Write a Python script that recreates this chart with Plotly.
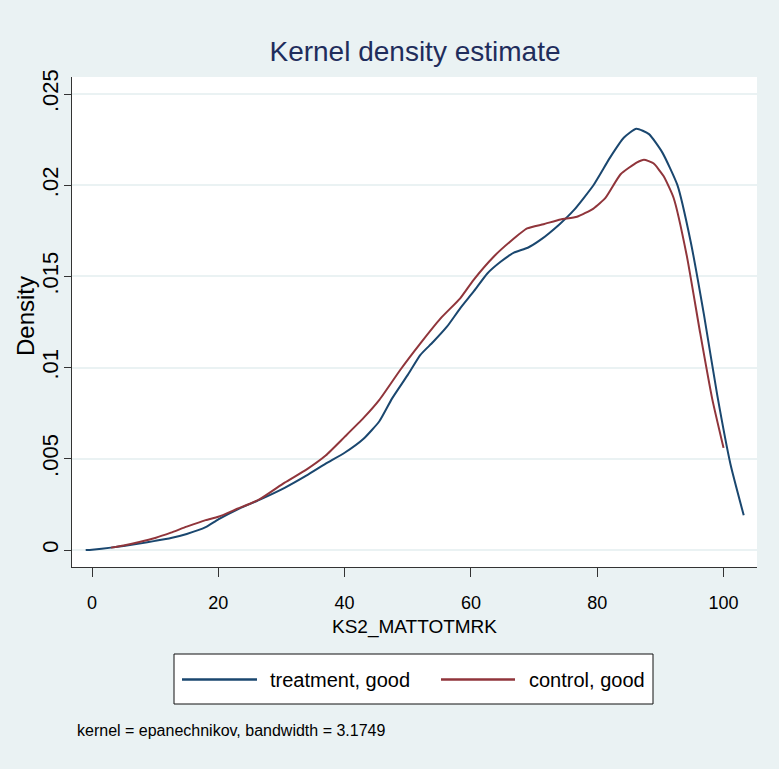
import plotly.graph_objects as go

# ---- data ----
treat_x = [-1, 0, 3, 5, 7.5, 10, 12.5, 15, 18, 20, 23, 26.5, 30.5, 34, 37, 40, 43, 45.5,
           47.5, 50, 52, 54, 56.2, 58.3, 60.5, 62.6, 64.7, 66.8, 69, 71, 74, 76.3, 79.4,
           82, 84.2, 86.2, 88.2, 90.3, 92.7, 94.8, 96.9, 99, 101.1, 103.2]
treat_y = [0, 0.00002, 0.00013, 0.00022, 0.00035, 0.0005, 0.00066, 0.00088, 0.00125,
           0.00168, 0.00222, 0.00275, 0.00341, 0.00409, 0.00473, 0.00533, 0.0061, 0.00706,
           0.0083, 0.0096, 0.0107, 0.0114, 0.01224, 0.01325, 0.0142, 0.01516, 0.0158,
           0.0163, 0.01657, 0.017, 0.01785, 0.01863, 0.02, 0.0215, 0.0226, 0.0231, 0.0228,
           0.0218, 0.02, 0.0169, 0.0129, 0.0085, 0.0047, 0.0019]

ctrl_x = [3, 5, 7.5, 10, 12.5, 15, 18, 20, 23, 26.5, 30.5, 34, 37, 40, 43, 45.5, 48.8,
          52, 55.2, 58.3, 60.4, 63.6, 66.2, 68.9, 71.5, 74.2, 76.8, 79.4, 81.3, 83.7, 86.3,
          87.4, 88.9, 90.5, 92.1, 94.2, 96.3, 98.2, 100]
ctrl_y = [0.00013, 0.00025, 0.00044, 0.00066, 0.00095, 0.00128, 0.00164, 0.00182, 0.00226,
          0.00277, 0.00369, 0.00442, 0.00518, 0.0062, 0.00724, 0.00823, 0.00987, 0.01133,
          0.0127, 0.0138, 0.0148, 0.01608, 0.0169, 0.01763, 0.01786, 0.01812, 0.01827,
          0.01872, 0.0193, 0.0206, 0.02125, 0.0214, 0.0212, 0.0205, 0.0193, 0.0161, 0.0119,
          0.0083, 0.0056]

series_names = ["treatment, good", "control, good"]
x_ticks = [0, 20, 40, 60, 80, 100]
y_ticks = [0, 0.005, 0.01, 0.015, 0.02, 0.025]
y_tick_text = ["0", ".005", ".01", ".015", ".02", ".025"]
title_text = "Kernel density estimate"
x_title = "KS2_MATTOTMRK"
y_title = "Density"
note_text = "kernel = epanechnikov, bandwidth = 3.1749"

# ---- style ----
W, H = 779, 769
ML, MR, MT, MB = 72, 22, 77, 202
BG = "#eaf2f3"
NAVY = "#1a476f"
MAROON = "#90353b"
FONT = "Liberation Sans, Arial, sans-serif"

pw, ph = W - ML - MR, H - MT - MB
def px2x(px):
    return (px - ML) / pw
def py2y(py):
    return (H - MB - py) / ph

fig = go.Figure()
fig.add_trace(go.Scatter(x=treat_x, y=treat_y, mode="lines", name=series_names[0],
                         line=dict(color=NAVY, width=2, shape="spline", smoothing=0.5),
                         showlegend=False))
fig.add_trace(go.Scatter(x=ctrl_x, y=ctrl_y, mode="lines", name=series_names[1],
                         line=dict(color=MAROON, width=2, shape="spline", smoothing=0.5),
                         showlegend=False))

shapes = []
annotations = []
# legend box (Stata-style, drawn in paper coordinates)
shapes.append(dict(type="rect", xref="paper", yref="paper",
                   x0=px2x(174), x1=px2x(653), y0=py2y(704), y1=py2y(654),
                   fillcolor="white", line=dict(color="#111111", width=1)))
leg_y = py2y(679.5)
for (lx0, lx1, tx, col, name) in [(182, 257, 268, NAVY, series_names[0]),
                                  (441, 515, 527, MAROON, series_names[1])]:
    shapes.append(dict(type="line", xref="paper", yref="paper",
                       x0=px2x(lx0), x1=px2x(lx1), y0=leg_y, y1=leg_y,
                       line=dict(color=col, width=2.5)))
    annotations.append(dict(text=name, xref="paper", yref="paper", x=px2x(tx), y=leg_y,
                            xanchor="left", yanchor="middle", showarrow=False,
                            font=dict(family=FONT, size=20, color="black")))
annotations.append(dict(text=note_text, xref="paper", yref="paper", x=px2x(75), y=py2y(730),
                        xanchor="left", yanchor="middle", showarrow=False,
                        font=dict(family=FONT, size=16, color="black")))
# y-axis title (rotated)
annotations.append(dict(text=y_title, xref="paper", yref="paper", x=px2x(25), y=py2y(316),
                        xanchor="center", yanchor="middle", textangle=-90, showarrow=False,
                        font=dict(family=FONT, size=24, color="black")))

fig.update_layout(
    width=W, height=H,
    margin=dict(l=ML, r=MR, t=MT, b=MB, autoexpand=False),
    paper_bgcolor=BG, plot_bgcolor="white",
    title=dict(text=title_text, x=px2x(415), xref="paper", xanchor="center",
               y=1 - 51 / H, yref="container", yanchor="middle",
               font=dict(family=FONT, size=28, color="#1f2d5c")),
    shapes=shapes, annotations=annotations,
    xaxis=dict(range=[-3.17, 105.3], tickmode="array", tickvals=x_ticks, automargin=False,
               ticks="outside", ticklen=9, tickcolor="#333", tickwidth=1,
               showline=True, linecolor="#333", linewidth=1, showgrid=False, zeroline=False,
               tickfont=dict(family=FONT, size=18, color="black"), ticklabelstandoff=10,
               title=dict(text=x_title, font=dict(family=FONT, size=19, color="black"),
                          standoff=8)),
    yaxis=dict(range=[-0.000932, 0.025932], tickmode="array", tickvals=y_ticks,
               ticktext=y_tick_text, tickangle=-90, automargin=False,
               ticks="outside", ticklen=7, tickcolor="#333", tickwidth=1,
               showline=True, linecolor="#333", linewidth=1,
               showgrid=True, gridcolor=BG, gridwidth=2, zeroline=False,
               tickfont=dict(family=FONT, size=22, color="black"), ticklabelstandoff=-3),
)

fig.write_html("out.html")
